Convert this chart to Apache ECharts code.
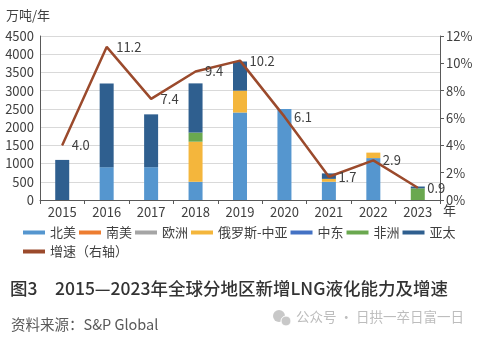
<!DOCTYPE html>
<html>
<head>
<meta charset="utf-8">
<script src="https://cdn.jsdelivr.net/npm/echarts@6/dist/echarts.min.js"></script>
<style>html,body{margin:0;padding:0;background:#fff;}#c{width:480px;height:339px;}</style>
</head>
<body>
<div id="c"></div>
<script>
var years = ['2015','2016','2017','2018','2019','2020','2021','2022','2023'];
var northAmerica = [null, 900, 900, 500, 2400, 2500, 500, 1150, null];
var southAmerica = [null, null, null, null, null, null, null, null, null];
var europe = [null, null, null, null, null, null, null, null, null];
var russiaCA = [null, null, null, 1100, 600, null, 80, 150, null];
var middleEast = [null, null, null, null, null, null, null, null, null];
var africa = [null, null, null, 250, null, null, null, null, 320];
var asiaPacific = [1100, 2300, 1450, 1350, 800, null, 150, null, 50];
var growth = [4.0, 11.2, 7.4, 9.4, 10.2, 6.1, 1.7, 2.9, 0.9];
var leftTicks = [0, 4500, 500];
var rightTicks = [0, 12, 2];

var FONT = '"Noto Sans CJK SC", "Noto Sans", sans-serif';
var chart = echarts.init(document.getElementById('c'));
function bar(name, data, color) {
  return { name: name, type: 'bar', stack: 'total', data: data, barWidth: 14,
    itemStyle: { color: color }, yAxisIndex: 0 };
}
var legendBase = {
  left: 18, itemWidth: 22, itemHeight: 4, itemGap: 3, icon: 'rect',
  textStyle: { fontSize: 13, color: '#404040', fontFamily: FONT }
};
chart.setOption({
  animation: false,
  textStyle: { fontFamily: FONT },
  grid: { left: 40, right: 40, top: 36, bottom: 139 },
  legend: [
    Object.assign({}, legendBase, { top: 221, data: ['北美','南美','欧洲','俄罗斯-中亚','中东','非洲','亚太'] }),
    Object.assign({}, legendBase, { top: 240, data: ['增速（右轴）'] })
  ],
  xAxis: {
    type: 'category', data: years,
    axisLine: { lineStyle: { color: '#595959', width: 1 } },
    axisTick: { show: true, length: 4, lineStyle: { color: '#595959' } },
    axisLabel: { fontSize: 13, color: '#404040', margin: 6 }
  },
  yAxis: [
    {
      type: 'value', min: leftTicks[0], max: leftTicks[1], interval: leftTicks[2],
      name: '万吨/年', nameLocation: 'end', nameGap: 14,
      nameTextStyle: { fontSize: 13, color: '#404040', align: 'left', padding: [0, 0, 0, -34] },
      axisLine: { show: true, lineStyle: { color: '#595959' } },
      axisTick: { show: false },
      axisLabel: { fontSize: 13, color: '#404040', margin: 6, formatter: function (v) { return String(v); } },
      splitLine: { lineStyle: { color: '#d9d9d9' } }
    },
    {
      type: 'value', min: rightTicks[0], max: rightTicks[1], interval: rightTicks[2],
      axisLine: { show: true, lineStyle: { color: '#595959' } },
      axisTick: { show: true, length: 4, lineStyle: { color: '#595959' } },
      axisLabel: { fontSize: 13, color: '#404040', margin: 6, formatter: '{value}%' },
      splitLine: { show: false }
    }
  ],
  series: [
    bar('北美', northAmerica, '#5596cf'),
    bar('南美', southAmerica, '#ed7d31'),
    bar('欧洲', europe, '#a5a5a5'),
    bar('俄罗斯-中亚', russiaCA, '#f4b63c'),
    bar('中东', middleEast, '#4472c4'),
    bar('非洲', africa, '#6aa84f'),
    bar('亚太', asiaPacific, '#2f5f8f'),
    {
      name: '增速（右轴）', type: 'line', yAxisIndex: 1, data: growth,
      symbol: 'circle', symbolSize: 1, showSymbol: true,
      lineStyle: { color: '#9b4a2c', width: 2.5 }, itemStyle: { color: '#9b4a2c' },
      label: { show: true, position: 'right', distance: 9, fontSize: 13, color: '#404040',
        formatter: function (p) { return p.value.toFixed(1); } }
    }
  ],
  graphic: [
    { type: 'text', left: 443, top: 204, style: { text: '年', font: '13px "Noto Sans CJK SC"', fill: '#404040' } },
    { type: 'text', left: 10, top: 280, style: { text: '图3　2015—2023年全球分地区新增LNG液化能力及增速',
      font: '500 17.5px "Noto Sans CJK SC"', fill: '#333333' } },
    { type: 'text', left: 11, top: 317, style: { text: '资料来源：S&P Global',
      font: '14.5px "Noto Sans CJK SC"', fill: '#595959' } },
    { type: 'circle', shape: { cx: 279, cy: 316, r: 6 }, style: { fill: '#c8c8c8' } },
    { type: 'circle', shape: { cx: 286, cy: 321, r: 5 }, style: { fill: '#c8c8c8', stroke: '#fff', lineWidth: 1 } },
    { type: 'text', left: 296, top: 310, style: { text: '公众号 · 日拱一卒日富一日',
      font: '13.5px "Noto Sans CJK SC"', fill: '#bdbdbd' } }
  ]
});
</script>
</body>
</html>
